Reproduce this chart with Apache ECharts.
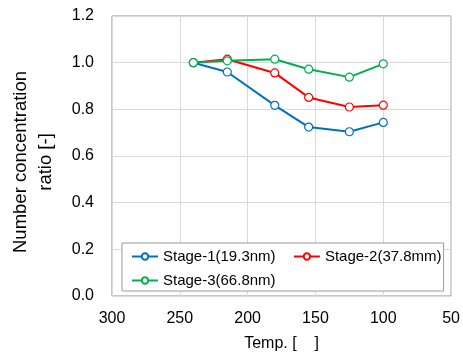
<!DOCTYPE html>
<html>
<head>
<meta charset="utf-8">
<script src="https://cdn.jsdelivr.net/npm/echarts@6/dist/echarts.min.js"></script>
<style>
  html, body { margin: 0; padding: 0; background: #fff; }
  #chart { width: 463px; height: 357px; }
</style>
</head>
<body>
<div id="chart"></div>
<script>
// temperatures (x) and ratios
const temps = [240, 215, 180, 155, 125, 100];
const stage1 = [1.0, 0.96, 0.817, 0.724, 0.704, 0.744];
const stage2 = [1.0, 1.015, 0.956, 0.851, 0.81, 0.818];
const stage3 = [1.0, 1.008, 1.015, 0.972, 0.938, 0.995];
const seriesNames = ['Stage-1(19.3nm)', 'Stage-2(37.8mm)', 'Stage-3(66.8nm)'];
const seriesColors = ['#0070C0', '#FF0000', '#00B050'];
const xTicks = { min: 50, max: 300, interval: 50 };
const yTicks = { min: 0, max: 1.2, interval: 0.2 };

const font = 'Liberation Sans, Arial, sans-serif';

const chart = echarts.init(document.getElementById('chart'));

const toPairs = (values) => values.map((v, i) => [temps[i], v]);

const makeSeries = (name, values, color) => ({
  name,
  type: 'line',
  data: toPairs(values),
  symbol: 'circle',
  symbolSize: 8,
  showAllSymbol: true,
  lineStyle: { color, width: 2 },
  itemStyle: { color: '#fff', borderColor: color, borderWidth: 1.2 },
  emphasis: { disabled: true },
  z: 3,
});

const option = {
  animation: false,
  grid: {
    left: 111,
    right: 11,
    top: 16,
    bottom: 57,
    show: true,
    borderColor: '#8c8c8c',
    borderWidth: 1,
  },
  xAxis: {
    type: 'value',
    inverse: true,
    min: xTicks.min,
    max: xTicks.max,
    interval: xTicks.interval,
    name: 'Temp. [    ]',
    nameLocation: 'middle',
    nameGap: 40,
    nameTextStyle: { fontFamily: font, fontSize: 16, color: '#000' },
    axisLine: { show: false },
    axisTick: { show: false },
    axisLabel: { fontFamily: font, fontSize: 16, color: '#000', margin: 15 },
    splitLine: { show: true, lineStyle: { color: '#d9d9d9', width: 1 } },
  },
  yAxis: {
    type: 'value',
    min: yTicks.min,
    max: yTicks.max,
    interval: yTicks.interval,
    name: 'Number concentration\nratio [-]',
    nameLocation: 'middle',
    nameGap: 54,
    nameRotate: 90,
    nameTextStyle: {
      fontFamily: font,
      fontSize: 18.5,
      color: '#000',
      lineHeight: 25,
      padding: [0, 12, 0, 0],
    },
    axisLine: { show: false },
    axisTick: { show: false },
    axisLabel: {
      fontFamily: font,
      fontSize: 16,
      color: '#000',
      margin: 18,
      formatter: (v) => v.toFixed(1),
    },
    splitLine: { show: true, lineStyle: { color: '#d9d9d9', width: 1 } },
  },
  legend: {
    data: seriesNames,
    left: 122,
    top: 243,
    width: 316,
    padding: [6, 2, 3, 9],
    itemGap: 9,
    itemWidth: 26,
    itemHeight: 8,
    borderColor: '#9a9a9a',
    borderWidth: 1,
    backgroundColor: '#fff',
    // extra room after the first entry so the second sits further right
    formatter: (name) => (name === seriesNames[0] ? name + '  ' : name),
    textStyle: { fontFamily: font, fontSize: 15, color: '#000' },
  },
  series: [
    makeSeries(seriesNames[0], stage1, seriesColors[0]),
    makeSeries(seriesNames[1], stage2, seriesColors[1]),
    makeSeries(seriesNames[2], stage3, seriesColors[2]),
  ],
};

chart.setOption(option);
</script>
</body>
</html>
